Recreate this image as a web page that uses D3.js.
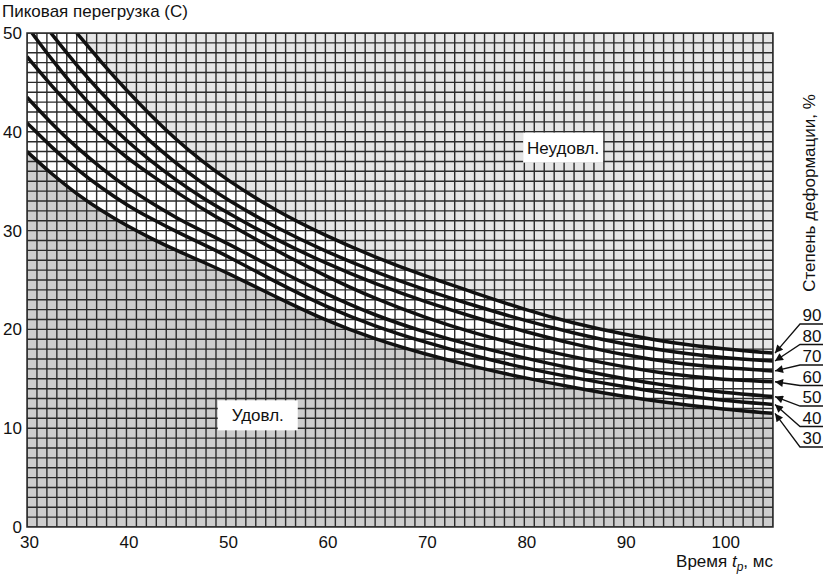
<!DOCTYPE html>
<html>
<head>
<meta charset="utf-8">
<script src="https://cdn.jsdelivr.net/npm/d3@7"></script>
<style>
  body { margin: 0; background: #fff; }
  text { font-family: "Liberation Sans", Arial, sans-serif; fill: #111; }
</style>
</head>
<body>
<svg id="chart" width="826" height="577"></svg>
<script>
// Peak overload vs time, curves by degree of deformation

const xTicks = [30, 40, 50, 60, 70, 80, 90, 100]
const yTicks = [0, 10, 20, 30, 40, 50]
const levels = [90, 80, 70, 60, 50, 40, 30]

const tGrid = [30, 32.5, 35, 37.5, 40, 42.5, 45, 47.5, 50, 55, 60, 65, 70, 75, 80, 85, 90, 95, 100, 105]

const t90 = [35, 37.5, 40, 42.5, 45, 47.5, 50, 55, 60, 65, 70, 75, 80, 85, 90, 95, 100, 105]
const g90 = [50, 47.0, 44.2, 41.6, 39.2, 37.1, 35.2, 32.0, 29.5, 27.3, 25.4, 23.7, 22.0, 20.6, 19.5, 18.6, 18.0, 17.6]

const t80 = [32.4, 35, 37.5, 40, 42.5, 45, 47.5, 50, 55, 60, 65, 70, 75, 80, 85, 90, 95, 100, 105]
const g80 = [50, 46.7, 43.9, 41.3, 38.9, 36.8, 34.9, 33.2, 30.3, 27.9, 25.8, 24.0, 22.4, 20.9, 19.6, 18.5, 17.7, 17.1, 16.8]

const t70 = [30.5, 32.5, 35, 37.5, 40, 42.5, 45, 47.5, 50, 55, 60, 65, 70, 75, 80, 85, 90, 95, 100, 105]
const g70 = [50, 47.3, 44.2, 41.5, 39.1, 37.0, 35.1, 33.4, 31.9, 29.1, 26.7, 24.6, 22.8, 21.2, 19.8, 18.5, 17.4, 16.6, 16.1, 15.8]

const g60 = [47.6, 44.6, 41.9, 39.5, 37.4, 35.6, 33.9, 32.3, 30.8, 28.0, 25.4, 23.1, 21.2, 19.6, 18.3, 17.2, 16.2, 15.4, 14.9, 14.7]
const g50 = [43.5, 40.8, 38.4, 36.3, 34.4, 32.8, 31.3, 30.0, 28.8, 26.1, 23.6, 21.4, 19.7, 18.3, 17.1, 16.0, 15.0, 14.2, 13.6, 13.2]
const g40 = [40.9, 38.4, 36.2, 34.3, 32.6, 31.2, 29.9, 28.7, 27.5, 24.8, 22.3, 20.3, 18.7, 17.3, 16.1, 15.1, 14.2, 13.4, 12.8, 12.4]
const g30 = [38.0, 35.7, 33.7, 32.0, 30.5, 29.2, 28.0, 26.9, 25.8, 23.3, 20.9, 19.0, 17.5, 16.2, 15.1, 14.1, 13.2, 12.5, 11.9, 11.5]

const curves = [
  { level: 90, t: t90, g: g90 },
  { level: 80, t: t80, g: g80 },
  { level: 70, t: t70, g: g70 },
  { level: 60, t: tGrid, g: g60 },
  { level: 50, t: tGrid, g: g50 },
  { level: 40, t: tGrid, g: g40 },
  { level: 30, t: tGrid, g: g30 }
].map(c => ({ level: c.level, pts: c.t.map((t, i) => [t, c.g[i]]) }))

const svg = d3.select('#chart')

let plot = { left: 27, right: 773, top: 33, bottom: 527 }

let x = d3.scaleLinear().domain([30, 105]).range([plot.left, plot.right])
let y = d3.scaleLinear().domain([0, 50]).range([plot.bottom, plot.top])

let defs = svg.append('defs')

defs.append('clipPath')
  .attr('id', 'clip')
  .append('rect')
  .attr('x', plot.left)
  .attr('y', plot.top)
  .attr('width', plot.right - plot.left)
  .attr('height', plot.bottom - plot.top)

defs.append('marker')
  .attr('id', 'arrow')
  .attr('markerUnits', 'userSpaceOnUse')
  .attr('viewBox', '0 0 10 10')
  .attr('refX', 10)
  .attr('refY', 5)
  .attr('markerWidth', 10)
  .attr('markerHeight', 8)
  .attr('orient', 'auto')
  .append('path')
  .attr('d', 'M0,0 L10,5 L0,10 Z')
  .attr('fill', '#111')

let body = svg.append('g').attr('clip-path', 'url(#clip)')

// Background regions
body.append('rect')
  .attr('x', plot.left)
  .attr('y', plot.top)
  .attr('width', plot.right - plot.left)
  .attr('height', plot.bottom - plot.top)
  .attr('fill', '#fff')

let upperPts = curves[0].pts
let lowerPts = curves[curves.length - 1].pts

body.append('path')
  .datum(upperPts)
  .attr('fill', '#e5e5e5')
  .attr('d', d3.area().x(d => x(d[0])).y0(y(50)).y1(d => y(d[1])).curve(d3.curveBasis))

body.append('path')
  .datum(lowerPts)
  .attr('fill', '#cdcdcd')
  .attr('d', d3.area().x(d => x(d[0])).y0(y(0)).y1(d => y(d[1])).curve(d3.curveBasis))

// Grid, one cell per unit
let grid = body.append('g')
  .attr('stroke', '#2a2a2a')
  .attr('stroke-width', 1.4)

grid.selectAll('.vline')
  .data(d3.range(30, 106))
  .enter().append('line')
  .attr('x1', d => x(d))
  .attr('x2', d => x(d))
  .attr('y1', plot.top)
  .attr('y2', plot.bottom)

grid.selectAll('.hline')
  .data(d3.range(0, 51))
  .enter().append('line')
  .attr('x1', plot.left)
  .attr('x2', plot.right)
  .attr('y1', d => y(d))
  .attr('y2', d => y(d))

// Curves
let line = d3.line()
  .x(d => x(d[0]))
  .y(d => y(d[1]))
  .curve(d3.curveBasis)

body.selectAll('.curve')
  .data(curves)
  .enter().append('path')
  .attr('fill', 'none')
  .attr('stroke', '#111')
  .attr('stroke-width', 3.5)
  .attr('d', d => line(d.pts))

svg.append('rect')
  .attr('x', plot.left)
  .attr('y', plot.top)
  .attr('width', plot.right - plot.left)
  .attr('height', plot.bottom - plot.top)
  .attr('fill', 'none')
  .attr('stroke', '#2a2a2a')
  .attr('stroke-width', 1.5)

// Region labels
function boxLabel (tx, ty, str, w) {
  let g = svg.append('g').attr('transform', 'translate(' + x(tx) + ',' + y(ty) + ')')
  g.append('rect')
    .attr('x', -w / 2)
    .attr('y', -15)
    .attr('width', w)
    .attr('height', 30)
    .attr('fill', '#fff')
  g.append('text')
    .attr('text-anchor', 'middle')
    .attr('dy', '0.36em')
    .style('font-size', '17px')
    .text(str)
}

boxLabel(83.9, 38.4, 'Неудовл.', 80)
boxLabel(53.2, 11.3, 'Удовл.', 80)

// Axes
let xAxis = d3.axisBottom(x).tickValues(xTicks).tickSize(0).tickPadding(9)
let yAxis = d3.axisLeft(y).tickValues(yTicks).tickSize(0).tickPadding(5)

svg.append('g')
  .attr('transform', 'translate(2,' + plot.bottom + ')')
  .call(xAxis)
  .call(g => g.select('.domain').remove())
  .selectAll('text')
  .style('font-size', '17px')
  .attr('fill', '#111')

svg.append('g')
  .attr('transform', 'translate(' + plot.left + ',0)')
  .call(yAxis)
  .call(g => g.select('.domain').remove())
  .selectAll('text')
  .style('font-size', '17px')
  .attr('fill', '#111')

svg.append('text')
  .attr('x', 2)
  .attr('y', 17)
  .style('font-size', '17px')
  .text('Пиковая перегрузка (С)')

let xTitle = svg.append('text')
  .attr('x', plot.right)
  .attr('y', 567)
  .attr('text-anchor', 'end')
  .style('font-size', '17px')
xTitle.append('tspan').text('Время ')
xTitle.append('tspan').style('font-style', 'italic').text('t')
xTitle.append('tspan').style('font-style', 'italic').style('font-size', '12px').attr('dy', 4).text('p')
xTitle.append('tspan').attr('dy', -4).text(', мс')

svg.append('text')
  .attr('transform', 'translate(815,193) rotate(-90)')
  .attr('text-anchor', 'middle')
  .style('font-size', '17px')
  .text('Степень деформации, %')

// Callouts for each curve end
let callout = svg.append('g')
curves.forEach((c, i) => {
  let uy = 324 + i * 20.5
  let end = c.pts[c.pts.length - 1]
  callout.append('path')
    .attr('d', 'M823,' + uy + ' H800 L' + (x(end[0]) + 2) + ',' + y(end[1]))
    .attr('fill', 'none')
    .attr('stroke', '#111')
    .attr('stroke-width', 1.3)
    .attr('marker-end', 'url(#arrow)')
  callout.append('text')
    .attr('x', 812)
    .attr('y', uy - 3)
    .attr('text-anchor', 'middle')
    .style('font-size', '17px')
    .text(levels[i])
})
</script>
</body>
</html>
